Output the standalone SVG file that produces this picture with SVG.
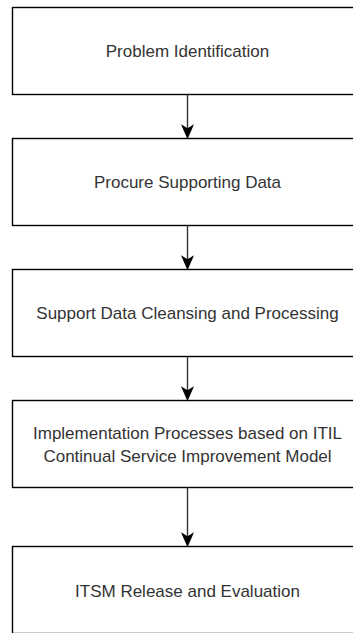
<svg xmlns="http://www.w3.org/2000/svg" width="353" height="633" viewBox="0 0 353 633">
<style>
.box{fill:#fff;stroke:#000;stroke-width:1.4}
.lbl{font-family:"Liberation Sans",Arial,sans-serif;font-size:17px;fill:#333;text-anchor:middle}
.edge{fill:none;stroke:#333;stroke-width:1.4}
.head{fill:#000;stroke:#000;stroke-width:1.4}
</style>
<rect width="353" height="633" fill="#fff"/>
<g id="n1"><rect class="box" x="12.5" y="7.5" width="350" height="87"/><text class="lbl" x="187.5" y="57">Problem Identification</text></g>
<g id="n2"><rect class="box" x="12.5" y="138.5" width="350" height="87"/><text class="lbl" x="187.5" y="188">Procure Supporting Data</text></g>
<g id="n3"><rect class="box" x="12.5" y="269.5" width="350" height="87"/><text class="lbl" x="187.5" y="319">Support Data Cleansing and Processing</text></g>
<g id="n4"><rect class="box" x="12.5" y="400.5" width="350" height="87"/><text class="lbl" x="187.5" y="439">Implementation Processes based on ITIL</text><text class="lbl" x="187.5" y="462">Continual Service Improvement Model</text></g>
<g id="n5"><rect class="box" x="12.5" y="546.5" width="350" height="87"/><text class="lbl" x="187.5" y="597">ITSM Release and Evaluation</text></g>
<g id="edges">
<path class="edge" d="M187.5,94.5 V129"/><path class="head" d="M187.5,137.5 L182.5,126 L187.5,129 L192.5,126 Z"/>
<path class="edge" d="M187.5,225.5 V260"/><path class="head" d="M187.5,268.5 L182.5,257 L187.5,260 L192.5,257 Z"/>
<path class="edge" d="M187.5,356.5 V391"/><path class="head" d="M187.5,399.5 L182.5,388 L187.5,391 L192.5,388 Z"/>
<path class="edge" d="M187.5,487.5 V537"/><path class="head" d="M187.5,545.5 L182.5,534 L187.5,537 L192.5,534 Z"/>
</g>
</svg>
